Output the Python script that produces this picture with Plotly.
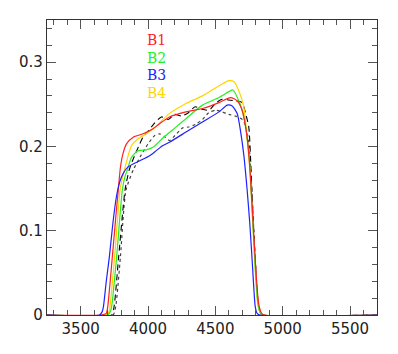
import plotly.graph_objects as go

# Wavelength (Angstrom) and transmission for each filter
b1_x = [3250, 3650, 3690, 3701, 3735, 3760, 3779, 3795, 3815, 3840, 3890, 3963, 4037, 4086, 4159, 4282, 4404, 4527, 4613, 4662, 4699, 4723, 4740, 4760, 4780, 4800, 4820, 4840, 4860, 5700]
b1_y = [0, 0, 0.002, 0.01, 0.069, 0.115, 0.148, 0.175, 0.192, 0.203, 0.211, 0.215, 0.221, 0.227, 0.235, 0.241, 0.245, 0.252, 0.258, 0.254, 0.243, 0.225, 0.205, 0.165, 0.11, 0.055, 0.015, 0.003, 0, 0]

b2_x = [3250, 3700, 3720, 3730, 3767, 3809, 3830, 3846, 3877, 3926, 3987, 4037, 4110, 4200, 4282, 4404, 4527, 4600, 4630, 4679, 4711, 4735, 4755, 4775, 4795, 4815, 4835, 4850, 5700]
b2_y = [0, 0, 0.004, 0.01, 0.069, 0.148, 0.165, 0.172, 0.187, 0.195, 0.196, 0.199, 0.210, 0.222, 0.233, 0.249, 0.258, 0.265, 0.267, 0.252, 0.235, 0.211, 0.18, 0.12, 0.06, 0.015, 0.002, 0, 0]

b3_x = [3250, 3640, 3660, 3669, 3690, 3713, 3740, 3765, 3790, 3816, 3853, 3939, 4012, 4061, 4110, 4159, 4282, 4404, 4527, 4588, 4625, 4662, 4686, 4711, 4735, 4755, 4775, 4796, 4810, 4830, 5700]
b3_y = [0, 0, 0.004, 0.01, 0.04, 0.069, 0.11, 0.14, 0.158, 0.168, 0.176, 0.183, 0.189, 0.195, 0.201, 0.205, 0.217, 0.229, 0.241, 0.249, 0.248, 0.239, 0.219, 0.19, 0.15, 0.11, 0.06, 0.01, 0.002, 0, 0]

b4_x = [3250, 3690, 3710, 3718, 3752, 3792, 3810, 3829, 3877, 3926, 3987, 4061, 4150, 4282, 4404, 4527, 4600, 4637, 4674, 4711, 4735, 4755, 4775, 4795, 4815, 4835, 4850, 5700]
b4_y = [0, 0, 0.004, 0.01, 0.069, 0.148, 0.163, 0.175, 0.201, 0.209, 0.215, 0.224, 0.238, 0.251, 0.260, 0.272, 0.278, 0.277, 0.266, 0.247, 0.211, 0.175, 0.115, 0.055, 0.012, 0.002, 0, 0]

dash_x = [3250, 3730, 3748, 3782, 3829, 3860, 3890, 3930, 3963, 4000, 4050, 4100, 4150, 4200, 4250, 4300, 4350, 4400, 4454, 4500, 4550, 4600, 4650, 4700, 4723, 4748, 4772, 4796, 4821, 4840, 4860, 5700]
dash_y = [0, 0, 0.01, 0.069, 0.148, 0.172, 0.185, 0.200, 0.211, 0.218, 0.228, 0.235, 0.232, 0.238, 0.236, 0.240, 0.247, 0.244, 0.243, 0.251, 0.256, 0.255, 0.254, 0.252, 0.240, 0.223, 0.144, 0.065, 0.01, 0.002, 0, 0]

dot_x = [3250, 3740, 3760, 3795, 3836, 3890, 3950, 4000, 4050, 4086, 4120, 4160, 4200, 4257, 4300, 4350, 4404, 4450, 4500, 4550, 4600, 4650, 4700, 4723, 4748, 4772, 4796, 4821, 4845, 5700]
dot_y = [0, 0, 0.01, 0.069, 0.148, 0.172, 0.19, 0.203, 0.213, 0.215, 0.212, 0.207, 0.213, 0.222, 0.223, 0.226, 0.232, 0.240, 0.243, 0.241, 0.238, 0.236, 0.232, 0.225, 0.205, 0.144, 0.065, 0.01, 0, 0]

labels = ["B1", "B2", "B3", "B4"]
colors = ["#ff2020", "#22ee22", "#2020ff", "#ffd400"]
label_y = [0.3266, 0.3053, 0.2852, 0.2639]
label_x = 3975

fig = go.Figure()
fig.add_trace(go.Scatter(x=dot_x, y=dot_y, mode="lines", line=dict(color="#444444", width=1.2, dash="dot", shape="spline", smoothing=0.6)))
fig.add_trace(go.Scatter(x=dash_x, y=dash_y, mode="lines", line=dict(color="#000000", width=1.1, dash="6px,4px", shape="spline", smoothing=0.6)))
for xs, ys, c in [(b4_x, b4_y, colors[3]), (b2_x, b2_y, colors[1]), (b1_x, b1_y, colors[0]), (b3_x, b3_y, colors[2])]:
    fig.add_trace(go.Scatter(x=xs, y=ys, mode="lines", line=dict(color=c, width=1.2, shape="spline", smoothing=0.6)))

for t, c, yy in zip(labels, colors, label_y):
    fig.add_annotation(x=label_x, y=yy, text=t, showarrow=False, xanchor="left", yanchor="middle",
                       font=dict(family="DejaVu Serif", size=14, color=c))

axis_common = dict(showgrid=False, zeroline=False, showline=True, linecolor="#333333", linewidth=1.2,
                   mirror="ticks", ticks="inside", ticklen=9, tickcolor="#555555", tickwidth=1,
                   tickfont=dict(family="DejaVu Sans", size=15, color="#222222"))
fig.update_xaxes(range=[3250, 5700], tickvals=[3500, 4000, 4500, 5000, 5500],
                 minor=dict(dtick=100, ticks="inside", ticklen=5, tickcolor="#555555", tick0=3500), **axis_common)
fig.update_yaxes(range=[0, 0.35], tickvals=[0, 0.1, 0.2, 0.3], ticktext=["0", "0.1", "0.2", "0.3"],
                 minor=dict(dtick=0.02, ticks="inside", ticklen=5, tickcolor="#555555", tick0=0), **axis_common)
fig.update_layout(width=390, height=346, margin=dict(l=35, r=21, t=11, b=39),
                  paper_bgcolor="white", plot_bgcolor="white", showlegend=False)
fig.write_html("out.html")
